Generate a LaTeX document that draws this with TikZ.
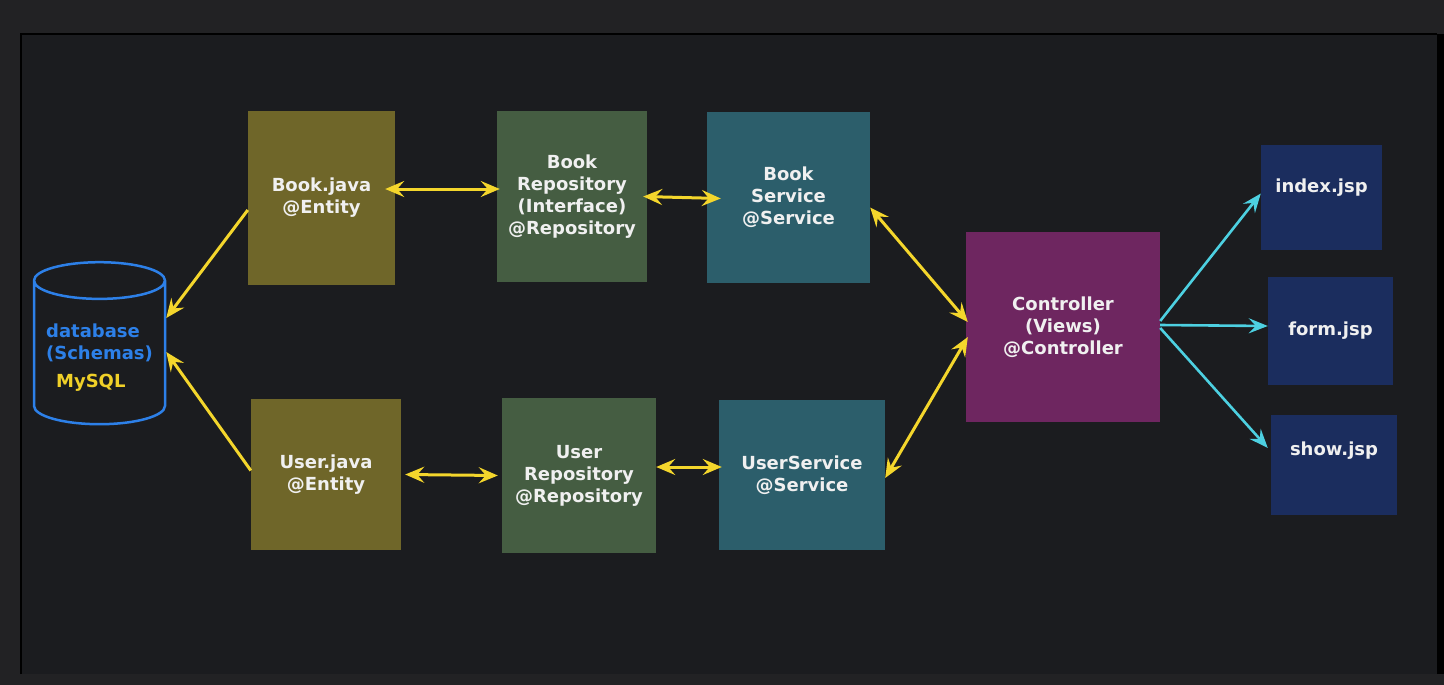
\documentclass[tikz,border=0pt]{standalone}
\usepackage{fontspec}
\setmainfont{DejaVu Sans}
\usetikzlibrary{shapes.geometric,arrows.meta}
\definecolor{outerbg}{RGB}{34,34,36}
\definecolor{panelbg}{RGB}{27,28,31}
\definecolor{entityolive}{RGB}{111,102,41}
\definecolor{repogreen}{RGB}{69,93,66}
\definecolor{serviceteal}{RGB}{44,94,107}
\definecolor{ctrlpurple}{RGB}{110,38,96}
\definecolor{jspblue}{RGB}{27,45,94}
\definecolor{dbblue}{RGB}{45,128,232}
\definecolor{mysqlyellow}{RGB}{240,208,40}
\definecolor{linkyellow}{RGB}{244,214,44}
\definecolor{viewcyan}{RGB}{77,208,225}
\definecolor{boxtext}{RGB}{240,240,240}
\tikzstyle{box}=[rectangle,inner sep=0pt,text=boxtext,font=\bfseries\fontsize{18}{22}\selectfont,align=center]
\tikzstyle{entity}=[box,fill=entityolive]
\tikzstyle{repo}=[box,fill=repogreen]
\tikzstyle{service}=[box,fill=serviceteal]
\tikzstyle{ctrl}=[box,fill=ctrlpurple]
\tikzstyle{jsp}=[box,fill=jspblue]
\tikzstyle{db}=[cylinder,shape border rotate=90,aspect=0.28,draw=dbblue,line width=2.5pt,inner sep=0pt,text width=131pt]
\tikzstyle{dbtext}=[text=dbblue,font=\bfseries\fontsize{18}{22}\selectfont,align=left,inner sep=0pt]
\tikzstyle{link}=[linkyellow,line width=3pt,{Stealth[length=19pt,width=16pt,inset=7pt]}-{Stealth[length=19pt,width=16pt,inset=7pt]}]
\tikzstyle{tolink}=[linkyellow,line width=3pt,-{Stealth[length=19pt,width=16pt,inset=7pt]}]
\tikzstyle{view}=[viewcyan,line width=2.6pt,-{Stealth[length=19pt,width=15pt,inset=7pt]}]

\begin{document}
\begin{tikzpicture}[x=1pt,y=-1pt]
    \fill[outerbg] (0,0) rectangle (1444,685);
    \fill[panelbg] (21,34) rectangle (1437,674);
    \fill[black] (1437,34) rectangle (1444,674);
    \draw[black,line width=2pt] (21,674) -- (21,34) -- (1437,34);
    \useasboundingbox (0,0) rectangle (1444,685);

    \node[db,minimum width=131pt,minimum height=162pt,
          label={[dbtext,yshift=-5pt]center:database\\(Schemas)\\[6pt]\hspace*{10pt}\textcolor{mysqlyellow}{MySQL}}] (db) at (99.5,353) {};

    \node[entity,minimum width=147pt,minimum height=174pt] (bookjava) at (321.5,198) {Book.java\\@Entity};
    \node[repo,minimum width=150pt,minimum height=171pt] (bookrepo) at (572,196.5) {Book\\Repository\\(Interface)\\@Repository};
    \node[service,minimum width=163pt,minimum height=171pt] (bookservice) at (788.5,197.5) {Book\\Service\\@Service};

    \node[entity,minimum width=150pt,minimum height=151pt] (userjava) at (326,474.5) {User.java\\@Entity};
    \node[repo,minimum width=154pt,minimum height=155pt] (userrepo) at (579,475.5) {User\\Repository\\@Repository};
    \node[service,minimum width=166pt,minimum height=150pt] (userservice) at (802,475) {UserService\\@Service};

    \node[ctrl,minimum width=194pt,minimum height=190pt] (ctrl) at (1063,327) {Controller\\(Views)\\@Controller};

    \node[jsp,minimum width=121pt,minimum height=105pt,text depth=24pt] (index) at (1321.5,197.5) {index.jsp};
    \node[jsp,minimum width=125pt,minimum height=108pt] (form) at (1330.5,331) {form.jsp};
    \node[jsp,minimum width=126pt,minimum height=100pt,text depth=32pt] (show) at (1334,465) {show.jsp};

    \draw[tolink] ([yshift=-12pt]bookjava.west) -- ([yshift=35pt]db.east);
    \draw[tolink] ([yshift=4pt]userjava.west) -- ([yshift=1pt]db.east);

    \draw[link] ([shift={(-10pt,9pt)}]bookjava.east) -- ([shift={(3pt,7.5pt)}]bookrepo.west);
    \draw[link] ([xshift=-4pt]bookrepo.east) -- ([shift={(14pt,-1pt)}]bookservice.west);
    \draw[link] ([yshift=-10pt]bookservice.east) -- ([shift={(2pt,5pt)}]ctrl.west);

    \draw[link] ([xshift=4pt]userjava.east) -- ([xshift=-4pt]userrepo.west);
    \draw[link] ([yshift=8.5pt]userrepo.east) -- ([shift={(3pt,8pt)}]userservice.west);
    \draw[link] ([yshift=-3pt]userservice.east) -- ([shift={(2pt,-10pt)}]ctrl.west);

    \draw[view] ([yshift=6pt]ctrl.east) -- ([yshift=4pt]index.west);
    \draw[view] ([yshift=2pt]ctrl.east) -- ([yshift=5pt]form.west);
    \draw[view] ([yshift=-1pt]ctrl.east) -- ([shift={(-3pt,17pt)}]show.west);
\end{tikzpicture}
\end{document}
